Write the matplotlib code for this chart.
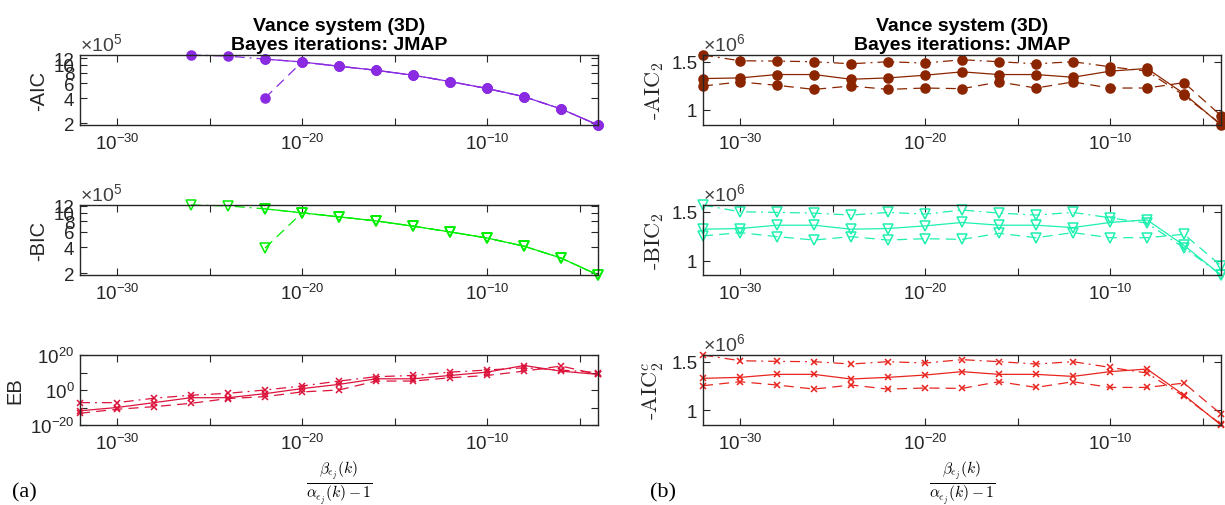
import numpy as np
import matplotlib
matplotlib.use('Agg')
import matplotlib.pyplot as plt
from matplotlib.ticker import FixedLocator, FixedFormatter, NullFormatter

plt.rcParams['font.family'] = ['Liberation Sans', 'DejaVu Sans']
plt.rcParams['mathtext.fontset'] = 'cm'

nan = np.nan

# x axis: beta/(alpha-1) sweep, 10^-32 ... 10^-4
ratio = [1e-32, 1e-30, 1e-28, 1e-26, 1e-24, 1e-22, 1e-20, 1e-18,
         1e-16, 1e-14, 1e-12, 1e-10, 1e-8, 1e-6, 1e-4]

# (a) -AIC and -BIC (x 1e5), EB
aic_solid = [nan, nan, nan, nan, nan, 11.7, 10.8, 9.6, 8.6, 7.5, 6.3, 5.2, 4.15, 2.96, 1.9]
aic_dash = [nan, nan, nan, nan, nan, 4.0, 10.8, 9.6, 8.6, 7.5, 6.3, 5.2, 4.15, 2.96, 1.9]
aic_dashdot = [nan, nan, nan, 13.1, 12.7, 11.7, 10.8, 9.6, 8.6, 7.5, 6.3, 5.2, 4.15, 2.96, 1.9]

bic_solid = [nan, nan, nan, nan, nan, 11.1, 9.98, 8.96, 8.05, 7.0, 6.0, 5.1, 4.1, 2.99, 1.9]
bic_dash = [nan, nan, nan, nan, nan, 3.9, 9.98, 8.96, 8.05, 7.0, 6.0, 5.1, 4.1, 2.99, 1.9]
bic_dashdot = [nan, nan, nan, 12.3, 12.0, 11.1, 9.98, 8.96, 8.05, 7.0, 6.0, 5.1, 4.1, 2.99, 1.9]

eb_solid = [1.3e-12, 1e-10, 6e-8, 4e-5, 4e-5, 8e-3, 6.3, 1.6e3, 2.5e6, 2.5e6,
            2e8, 1.6e10, 1e14, 6e10, 8e8]
eb_dash = [5e-14, 1e-11, 3e-10, 2.5e-8, 1.3e-5, 1.6e-4, 8e-2, 1.0, 1.3e5, 1.3e5,
           1e7, 2e8, 6e10, 5e13, 8e8]
eb_dashdot = [6e-8, 6e-8, 2e-5, 1e-3, 1.3e-2, 1.0, 2e2, 1.3e5, 4e7, 2e8,
              1.6e10, 2.5e11, 5e12, 2.5e11, 8e9]

# (b) -AIC2, -BIC2, -AICc2 (x 1e6)
aic2_solid = [1.325, 1.332, 1.367, 1.367, 1.318, 1.332, 1.360, 1.395, 1.367, 1.367,
              1.339, 1.402, 1.430, 1.168, 0.843]
aic2_dash = [1.248, 1.290, 1.255, 1.213, 1.248, 1.213, 1.227, 1.220, 1.290, 1.227,
             1.290, 1.227, 1.227, 1.283, 0.940]
aic2_dashdot = [1.570, 1.510, 1.507, 1.500, 1.479, 1.500, 1.486, 1.521, 1.500, 1.479,
                1.500, 1.448, 1.402, 1.150, 0.853]

bic2_solid = [1.321, 1.328, 1.362, 1.362, 1.321, 1.328, 1.355, 1.390, 1.362, 1.362,
              1.338, 1.390, 1.417, 1.155, 0.852]
bic2_dash = [1.252, 1.286, 1.245, 1.210, 1.245, 1.210, 1.224, 1.217, 1.279, 1.234,
             1.286, 1.234, 1.234, 1.269, 0.948]
bic2_dashdot = [1.569, 1.500, 1.493, 1.486, 1.466, 1.493, 1.476, 1.517, 1.486, 1.466,
                1.493, 1.438, 1.383, 1.131, 0.855]

aicc2_solid = [1.328, 1.338, 1.369, 1.369, 1.321, 1.338, 1.362, 1.397, 1.369, 1.369,
               1.348, 1.397, 1.424, 1.155, 0.846]
aicc2_dash = [1.252, 1.293, 1.259, 1.217, 1.259, 1.217, 1.228, 1.224, 1.293, 1.234,
              1.293, 1.234, 1.234, 1.279, 0.959]
aicc2_dashdot = [1.569, 1.510, 1.503, 1.500, 1.476, 1.500, 1.486, 1.521, 1.500, 1.476,
                 1.500, 1.441, 1.383, 1.141, 0.855]

AX_COLOR = '#262626'
DASHED = (0, (8, 5))
DASHDOT = (0, (8, 4, 1.5, 4))
TITLE = 'Vance system (3D)\nBayes iterations: JMAP'
XLABEL = r'$\frac{\beta_{\epsilon_j}(k)}{\alpha_{\epsilon_j}(k)-1}$'

fig = plt.figure(figsize=(12.25, 5.06), dpi=100)

W = 518 / 1225
H = 70 / 506
lefts = [80 / 1225, 703 / 1225]
bottoms = [1 - 126 / 506, 1 - 276 / 506, 1 - 426 / 506]


def style_axes(ax):
    ax.set_xscale('log')
    ax.set_xlim(1e-32, 1e-4)
    ax.xaxis.set_major_locator(FixedLocator([1e-30, 1e-20, 1e-10]))
    ax.xaxis.set_major_formatter(FixedFormatter(
        [r'$\mathregular{10^{-30}}$', r'$\mathregular{10^{-20}}$', r'$\mathregular{10^{-10}}$']))
    ax.xaxis.set_minor_locator(FixedLocator([1e-25, 1e-15, 1e-5]))
    ax.xaxis.set_minor_formatter(NullFormatter())
    ax.tick_params(which='both', direction='in', top=True, right=True, length=5,
                   width=0.8, colors=AX_COLOR, labelsize=13.5, pad=4)
    ax.tick_params(axis='x', which='major', pad=6)
    for s in ax.spines.values():
        s.set_color(AX_COLOR)
        s.set_linewidth(1.0)


def draw_three(ax, solid, dash, dashdot, color, marker, ms, filled):
    mfc = color if filled else 'none'
    kw = dict(color=color, marker=marker, markersize=ms, markerfacecolor=mfc,
              markeredgecolor=color, linewidth=0.9, markeredgewidth=1.1, clip_on=False)
    ax.plot(ratio, solid, linestyle='-', **kw)
    ax.plot(ratio, dash, linestyle=DASHED, **kw)
    ax.plot(ratio, dashdot, linestyle=DASHDOT, **kw)


def offset_label(ax, exp):
    ax.text(0.0, 1.015, r'$\mathregular{\times 10^{%d}}$' % exp, transform=ax.transAxes,
            ha='left', va='bottom', fontsize=14, color='#404040')


def tight_ylim(ax, *series):
    vals = np.concatenate([np.asarray(s, dtype=float) for s in series])
    ax.set_ylim(np.nanmin(vals), np.nanmax(vals))


# ---- column (a)
ax1 = fig.add_axes([lefts[0], bottoms[0], W, H])
draw_three(ax1, aic_solid, aic_dash, aic_dashdot, '#8A2BE2', 'o', 6.5, True)
ax1.set_yscale('log')
tight_ylim(ax1, aic_solid, aic_dash, aic_dashdot)
style_axes(ax1)
ax1.yaxis.set_major_locator(FixedLocator([2, 4, 6, 8, 10, 12]))
ax1.yaxis.set_major_formatter(FixedFormatter(['2', '4', '6', '8', '10', '12']))
ax1.yaxis.set_minor_locator(FixedLocator([]))
ax1.set_ylabel('-AIC', fontsize=14.5, color=AX_COLOR, labelpad=4)
offset_label(ax1, 5)
ax1.set_title(TITLE, fontsize=14, fontweight='bold', pad=4)

ax2 = fig.add_axes([lefts[0], bottoms[1], W, H])
draw_three(ax2, bic_solid, bic_dash, bic_dashdot, '#00EE00', 'v', 7, False)
ax2.set_yscale('log')
tight_ylim(ax2, bic_solid, bic_dash, bic_dashdot)
style_axes(ax2)
ax2.yaxis.set_major_locator(FixedLocator([2, 4, 6, 8, 10, 12]))
ax2.yaxis.set_major_formatter(FixedFormatter(['2', '4', '6', '8', '10', '12']))
ax2.yaxis.set_minor_locator(FixedLocator([]))
ax2.set_ylabel('-BIC', fontsize=14.5, color=AX_COLOR, labelpad=4)
offset_label(ax2, 5)

ax3 = fig.add_axes([lefts[0], bottoms[2], W, H])
draw_three(ax3, eb_solid, eb_dash, eb_dashdot, '#DC143C', 'x', 4.5, False)
ax3.set_yscale('log')
ax3.set_ylim(1e-20, 1e20)
style_axes(ax3)
ax3.yaxis.set_major_locator(FixedLocator([1e-20, 1, 1e20]))
ax3.yaxis.set_major_formatter(FixedFormatter(
    [r'$\mathregular{10^{-20}}$', r'$\mathregular{10^{0}}$', r'$\mathregular{10^{20}}$']))
ax3.yaxis.set_minor_locator(FixedLocator([1e-10, 1e10]))
ax3.yaxis.set_minor_formatter(NullFormatter())
ax3.set_ylabel('EB', fontsize=14.5, color=AX_COLOR, labelpad=4)
ax3.set_xlabel(XLABEL, fontsize=16, labelpad=3)

# ---- column (b)
right_panels = [
    (bottoms[0], aic2_solid, aic2_dash, aic2_dashdot, '#8B2500', 'o', 6.5, True, '-AIC$_2$'),
    (bottoms[1], bic2_solid, bic2_dash, bic2_dashdot, '#1EF0B0', 'v', 7, False, '-BIC$_2$'),
    (bottoms[2], aicc2_solid, aicc2_dash, aicc2_dashdot, '#E8251F', 'x', 4.5, False, '-AIC$_2^c$'),
]
for i, (b, s, d, dd, col, mk, ms, filled, lab) in enumerate(right_panels):
    ax = fig.add_axes([lefts[1], b, W, H])
    draw_three(ax, s, d, dd, col, mk, ms, filled)
    tight_ylim(ax, s, d, dd)
    style_axes(ax)
    ax.yaxis.set_major_locator(FixedLocator([1.0, 1.5]))
    ax.yaxis.set_major_formatter(FixedFormatter(['1', '1.5']))
    ax.set_ylabel(lab, fontsize=16, color=AX_COLOR, labelpad=4,
                  family=['cmr10', 'DejaVu Serif'])
    offset_label(ax, 6)
    if i == 0:
        ax.set_title(TITLE, fontsize=14, fontweight='bold', pad=4)
    if i == 2:
        ax.set_xlabel(XLABEL, fontsize=16, labelpad=3)

fig.text(12 / 1225, 1 - 493 / 506, '(a)', fontsize=16, va='center', ha='left',
         family=['Liberation Serif', 'DejaVu Serif'])
fig.text(650 / 1225, 1 - 493 / 506, '(b)', fontsize=16, va='center', ha='left',
         family=['Liberation Serif', 'DejaVu Serif'])

fig.savefig('out.png', dpi=100)
